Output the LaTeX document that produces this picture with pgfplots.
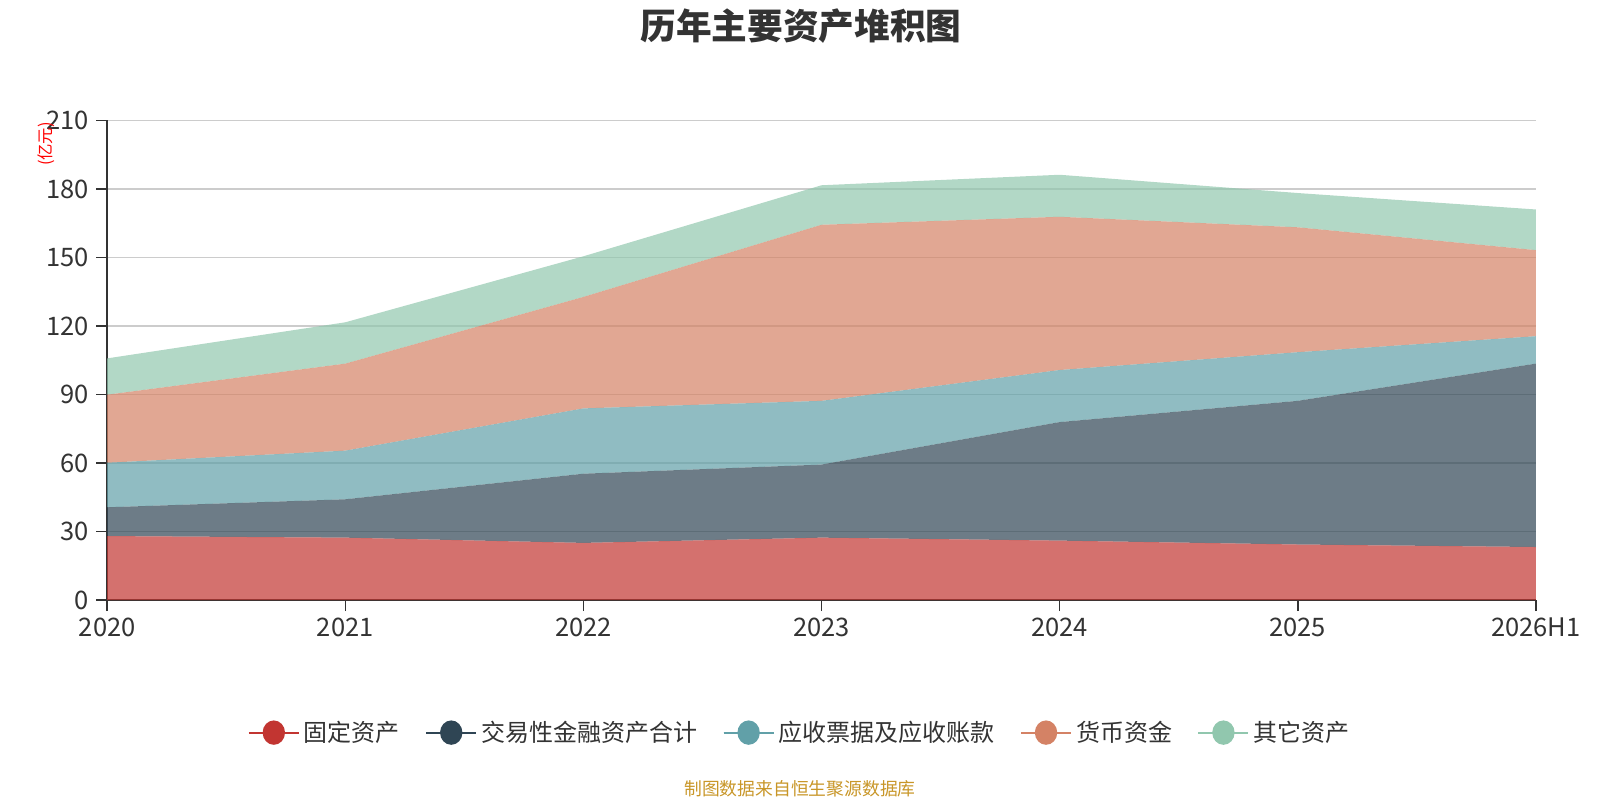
\documentclass[border=0pt]{standalone}
\usepackage{pgfplots}
\pgfplotsset{compat=1.18}
\usepackage{fontspec}
\setmainfont{Noto Sans CJK SC}
\definecolor{c1}{HTML}{C23531}
\definecolor{c2}{HTML}{2F4554}
\definecolor{c3}{HTML}{61A0A8}
\definecolor{c4}{HTML}{D48265}
\definecolor{c5}{HTML}{91C7AE}
\definecolor{txt}{HTML}{333333}
\definecolor{foot}{RGB}{200,150,40}
\newcommand{\legimg}[1]{\draw[draw=#1,line width=1pt,opacity=1] (0pt,0pt) -- (25pt,0pt); \fill[#1,opacity=1,fill opacity=1] (12.5pt,0pt) ellipse (5.6pt and 6.1pt);}
\begin{document}
\begin{tikzpicture}
\begin{axis}[
  at={(53.6pt,100pt)}, anchor=south west,
  scale only axis, width=714.3pt, height=239.8pt,
  xmin=0, xmax=6, ymin=0, ymax=210,
  stack plots=y,
  xtick={0,1,2,3,4,5,6},
  xticklabels={2020,2021,2022,2023,2024,2025,2026H1},
  ytick={0,30,60,90,120,150,180,210},
  axis x line*=bottom, axis y line*=left,
  axis line style={color=txt, line width=0.8pt},
  tick style={color=txt, line width=0.8pt},
  tick align=outside, major tick length=5.5pt,
  ymajorgrids, grid style={color=black!20, line width=0.6pt},
  ticklabel style={font=\fontsize{12.75}{14}\selectfont, color=txt},
  /pgf/number format/assume math mode=true,
  legend style={at={(0.4854,-0.2765)}, anchor=center, draw=none, fill=none,
    legend columns=5, font=\fontsize{12}{14}\selectfont, text=txt,
    /tikz/every even column/.append style={column sep=10.7pt}},
  legend cell align=left,
]
\addplot[fill=c1, fill opacity=0.7, draw=none, legend image code/.code={\legimg{c1}}]
  coordinates {(0,28.0) (1,27.3) (2,25.0) (3,27.3) (4,26.0) (5,24.3) (6,23.2)} \closedcycle;
\addlegendentry{固定资产}
\addplot[fill=c2, fill opacity=0.7, draw=none, legend image code/.code={\legimg{c2}}]
  coordinates {(0,12.6) (1,16.8) (2,30.3) (3,32.0) (4,51.9) (5,62.9) (6,80.3)} \closedcycle;
\addlegendentry{交易性金融资产合计}
\addplot[fill=c3, fill opacity=0.7, draw=none, legend image code/.code={\legimg{c3}}]
  coordinates {(0,19.5) (1,21.3) (2,28.6) (3,27.9) (4,22.8) (5,21.3) (6,12.0)} \closedcycle;
\addlegendentry{应收票据及应收账款}
\addplot[fill=c4, fill opacity=0.7, draw=none, legend image code/.code={\legimg{c4}}]
  coordinates {(0,29.8) (1,38.1) (2,48.8) (3,77.1) (4,67.1) (5,54.7) (6,37.7)} \closedcycle;
\addlegendentry{货币资金}
\addplot[fill=c5, fill opacity=0.7, draw=none, legend image code/.code={\legimg{c5}}]
  coordinates {(0,15.9) (1,18.1) (2,17.8) (3,17.3) (4,18.4) (5,15.0) (6,17.8)} \closedcycle;
\addlegendentry{其它资产}
\end{axis}
\node[font=\fontsize{17.85}{20}\selectfont\bfseries, text=txt] at (400.5pt,387.2pt) {历年主要资产堆积图};
\node[font=\fontsize{8.2}{9}\selectfont, text=red, rotate=90] at (23pt,328pt) {(亿元)};
\node[font=\fontsize{8.9}{10}\selectfont, text=foot] at (400pt,5.8pt) {制图数据来自恒生聚源数据库};
\pgfresetboundingbox
\path[use as bounding box] (0,0) rectangle (800pt,400pt);
\end{tikzpicture}
\end{document}
